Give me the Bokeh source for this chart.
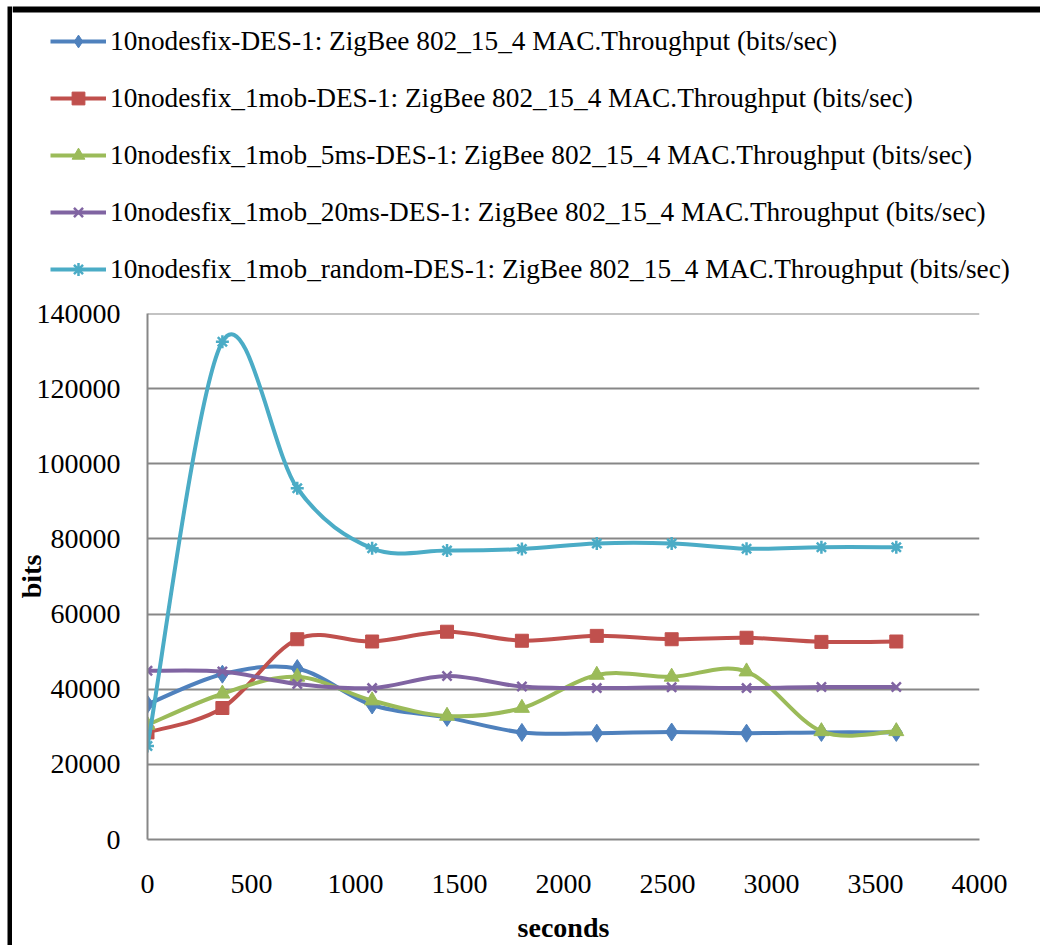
from bokeh.plotting import figure
from bokeh.layouts import row, column
from bokeh.models import (Legend, LegendItem, Range1d, FixedTicker,
                          NumeralTickFormatter, BoxAnnotation)
from bokeh.embed import file_html
from bokeh.resources import INLINE

# ---------------- data ----------------
seconds = [0, 360, 720, 1080, 1440, 1800, 2160, 2520, 2880, 3240, 3600]
des1 = [36000, 44000, 45500, 35800, 32500, 28500, 28300, 28600, 28300, 28500, 28500]
mob1 = [28500, 35000, 53300, 52700, 55300, 52900, 54200, 53300, 53700, 52600, 52700]
mob5ms = [30500, 38800, 43300, 37000, 32900, 35000, 43800, 43300, 44700, 28800, 28800]
mob20ms = [44900, 44700, 41400, 40300, 43500, 40700, 40300, 40500, 40300, 40600, 40600]
mobrandom = [24900, 132500, 93500, 77500, 76900, 77300, 78800, 78800, 77400, 77800, 77800]

series_labels = [
    "10nodesfix-DES-1: ZigBee 802_15_4 MAC.Throughput (bits/sec)",
    "10nodesfix_1mob-DES-1: ZigBee 802_15_4 MAC.Throughput (bits/sec)",
    "10nodesfix_1mob_5ms-DES-1: ZigBee 802_15_4 MAC.Throughput (bits/sec)",
    "10nodesfix_1mob_20ms-DES-1: ZigBee 802_15_4 MAC.Throughput (bits/sec)",
    "10nodesfix_1mob_random-DES-1: ZigBee 802_15_4 MAC.Throughput (bits/sec)",
]
series_values = [des1, mob1, mob5ms, mob20ms, mobrandom]
colors = ["#4F81BD", "#C0504D", "#9BBB59", "#8064A2", "#4BACC6"]
markers = ["diamond", "square", "triangle", "x", "asterisk"]
marker_sizes = [18, 13, 15, 13, 13]

x_ticks = [0, 500, 1000, 1500, 2000, 2500, 3000, 3500, 4000]
y_ticks = [0, 20000, 40000, 60000, 80000, 100000, 120000, 140000]

SERIF = "Liberation Serif"
GRID = "#878787"


def smooth_segments(xs, ys):
    """Cardinal-spline (Excel-like smoothing) Bezier control points."""
    n = len(xs)
    out = dict(x0=[], y0=[], x1=[], y1=[], cx0=[], cy0=[], cx1=[], cy1=[])
    for i in range(n - 1):
        pm = max(i - 1, 0)
        pp = min(i + 2, n - 1)
        out["x0"].append(xs[i]); out["y0"].append(ys[i])
        out["x1"].append(xs[i + 1]); out["y1"].append(ys[i + 1])
        out["cx0"].append(xs[i] + (xs[i + 1] - xs[pm]) / 6.0)
        out["cy0"].append(ys[i] + (ys[i + 1] - ys[pm]) / 6.0)
        out["cx1"].append(xs[i + 1] - (xs[pp] - xs[i]) / 6.0)
        out["cy1"].append(ys[i + 1] - (ys[pp] - ys[i]) / 6.0)
    return out


def add_series(fig, spec):
    lab, ys, col, mk, ms = spec
    seg = smooth_segments(seconds, ys)
    r_line = fig.bezier(x0=seg["x0"], y0=seg["y0"], x1=seg["x1"], y1=seg["y1"],
                        cx0=seg["cx0"], cy0=seg["cy0"], cx1=seg["cx1"], cy1=seg["cy1"],
                        line_color=col, line_width=4)
    if mk in ("x", "asterisk"):
        r_mk = fig.scatter(seconds, ys, marker=mk, size=ms, line_color=col, line_width=2.5)
    else:
        r_mk = fig.scatter(seconds, ys, marker=mk, size=ms, fill_color=col, line_color=col)
    return r_line, r_mk


specs = list(zip(series_labels, series_values, colors, markers, marker_sizes))

TOTAL_H = 945
LEG_H = 290
MAIN_W = 1028

# ---------------- left border strip ----------------
strip = figure(width=12, height=TOTAL_H, x_range=(0, 1), y_range=(0, 1),
               x_axis_type=None, y_axis_type=None, output_backend="svg",
               toolbar_location=None, min_border=0)
strip.outline_line_color = None
strip.frame_align = False
# screen y is measured upward from the frame bottom
strip.add_layout(BoxAnnotation(left=7, right=12, top=TOTAL_H - 6, bottom=0,
                               left_units="screen", right_units="screen",
                               top_units="screen", bottom_units="screen",
                               fill_color="black", fill_alpha=1, line_color=None))

# ---------------- legend panel ----------------
top = figure(width=MAIN_W, height=LEG_H, x_range=(0, 1), y_range=(0, 1),
             x_axis_type=None, y_axis_type=None, output_backend="svg",
             toolbar_location=None, min_border=0)
top.outline_line_color = None
top.frame_align = False
top.add_layout(BoxAnnotation(left=0, right=MAIN_W, top=LEG_H - 6, bottom=LEG_H - 12,
                             left_units="screen", right_units="screen",
                             top_units="screen", bottom_units="screen",
                             fill_color="black", fill_alpha=1, line_color=None))
items = []
for spec in specs:
    # same series, drawn outside this panel's visible range: only their legend glyphs show
    r_line, r_mk = add_series(top, spec)
    items.append(LegendItem(label=spec[0], renderers=[r_line, r_mk]))
legend = Legend(items=items, location=(38, 5), orientation="vertical",
                padding=0, margin=0, spacing=25,
                glyph_width=56, glyph_height=32, label_height=32, label_standoff=4,
                label_text_font=SERIF, label_text_font_size="27.3px",
                label_text_color="black",
                border_line_color=None, background_fill_alpha=0)
top.add_layout(legend)

# ---------------- main chart ----------------
p = figure(width=MAIN_W, height=TOTAL_H - LEG_H,
           x_range=Range1d(x_ticks[0], x_ticks[-1]),
           y_range=Range1d(y_ticks[0], y_ticks[-1] + 1),
           output_backend="svg", toolbar_location=None,
           min_border_left=135, min_border_right=61,
           min_border_top=23, min_border_bottom=106)
p.outline_line_color = None
p.frame_align = False

for spec in specs:
    add_series(p, spec)

p.xaxis.ticker = FixedTicker(ticks=x_ticks)
p.yaxis.ticker = FixedTicker(ticks=y_ticks)
p.yaxis.formatter = NumeralTickFormatter(format="0")
p.xaxis.formatter = NumeralTickFormatter(format="0")
for ax in (p.xaxis, p.yaxis):
    ax.axis_line_color = GRID
    ax.axis_line_width = 2
    ax.major_tick_line_color = None
    ax.minor_tick_line_color = None
    ax.major_label_text_font = SERIF
    ax.major_label_text_font_size = "28px"
    ax.major_label_text_color = "black"
    ax.axis_label_text_font = SERIF
    ax.axis_label_text_font_size = "28px"
    ax.axis_label_text_font_style = "bold"
    ax.axis_label_text_color = "black"

p.xaxis.axis_label = "seconds"
p.yaxis.axis_label = "bits"
p.yaxis.major_label_standoff = 21
p.xaxis.major_label_standoff = 29
p.xaxis.axis_label_standoff = 16
p.yaxis.axis_label_standoff = -13

p.xgrid.visible = False
p.ygrid.grid_line_color = GRID
p.ygrid.grid_line_width = 2

layout = row(strip, column(top, p))
open("out.html", "w").write(file_html(layout, INLINE))
